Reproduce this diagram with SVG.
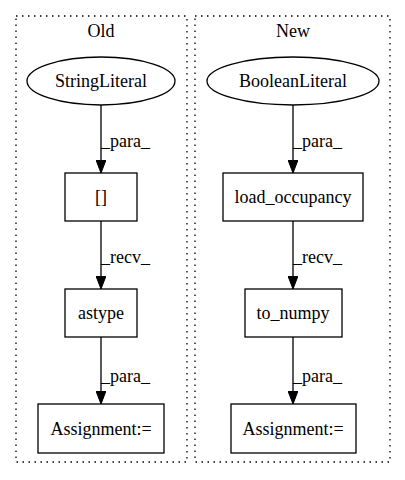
<svg xmlns="http://www.w3.org/2000/svg" width="405" height="480" viewBox="0 0 405 480">
<style>
text{font-family:"Liberation Serif","Times New Roman",serif;font-size:18px;fill:#000;text-anchor:middle}
.cl{fill:none;stroke:#000;stroke-dasharray:1.5,4.5;stroke-width:1.3}
.n{fill:#fff;stroke:#000;stroke-width:1.3}
.e{stroke:#000;stroke-width:1.3;fill:none}
.lbl{text-anchor:start}
</style>
<defs>
<marker id="ah" markerWidth="14" markerHeight="10" refX="13" refY="5" orient="auto" markerUnits="userSpaceOnUse">
<polygon points="0,0 13,5 0,10" fill="#000" stroke="#000"/>
</marker>
</defs>
<rect width="405" height="480" fill="#fff"/>
<g id="cluster_old">
<rect class="cl" x="16" y="16" width="171" height="446"/>
<text x="101" y="37">Old</text>
</g>
<g id="cluster_new">
<rect class="cl" x="195" y="16" width="195" height="446"/>
<text x="293" y="37">New</text>
</g>
<g id="connectors">
<path class="e" d="M101,105 L101,173" marker-end="url(#ah)"/>
<text class="lbl" x="101" y="147">_para_</text>
<path class="e" d="M101,221 L101,289" marker-end="url(#ah)"/>
<text class="lbl" x="101" y="263">_recv_</text>
<path class="e" d="M101,337 L101,404" marker-end="url(#ah)"/>
<text class="lbl" x="101" y="382">_para_</text>
<path class="e" d="M293,105 L293,173" marker-end="url(#ah)"/>
<text class="lbl" x="293" y="147">_para_</text>
<path class="e" d="M293,221 L293,289" marker-end="url(#ah)"/>
<text class="lbl" x="293" y="263">_recv_</text>
<path class="e" d="M293,337 L293,404" marker-end="url(#ah)"/>
<text class="lbl" x="293" y="382">_para_</text>
</g>
<g id="StringLiteral">
<ellipse class="n" cx="101" cy="81" rx="74" ry="24"/>
<text x="101" y="87">StringLiteral</text>
</g>
<g id="brackets">
<rect class="n" x="65" y="173" width="72" height="48"/>
<text x="101" y="203">[]</text>
</g>
<g id="astype">
<rect class="n" x="65" y="289" width="72" height="48"/>
<text x="101" y="319">astype</text>
</g>
<g id="Assignment_old">
<rect class="n" x="38" y="404" width="126" height="49"/>
<text x="101" y="435">Assignment:=</text>
</g>
<g id="BooleanLiteral">
<ellipse class="n" cx="293" cy="81" rx="86" ry="24"/>
<text x="293" y="87">BooleanLiteral</text>
</g>
<g id="load_occupancy">
<rect class="n" x="223" y="173" width="140" height="48"/>
<text x="293" y="203">load_occupancy</text>
</g>
<g id="to_numpy">
<rect class="n" x="245" y="289" width="97" height="48"/>
<text x="293" y="319">to_numpy</text>
</g>
<g id="Assignment_new">
<rect class="n" x="231" y="404" width="125" height="49"/>
<text x="293" y="435">Assignment:=</text>
</g>
</svg>
